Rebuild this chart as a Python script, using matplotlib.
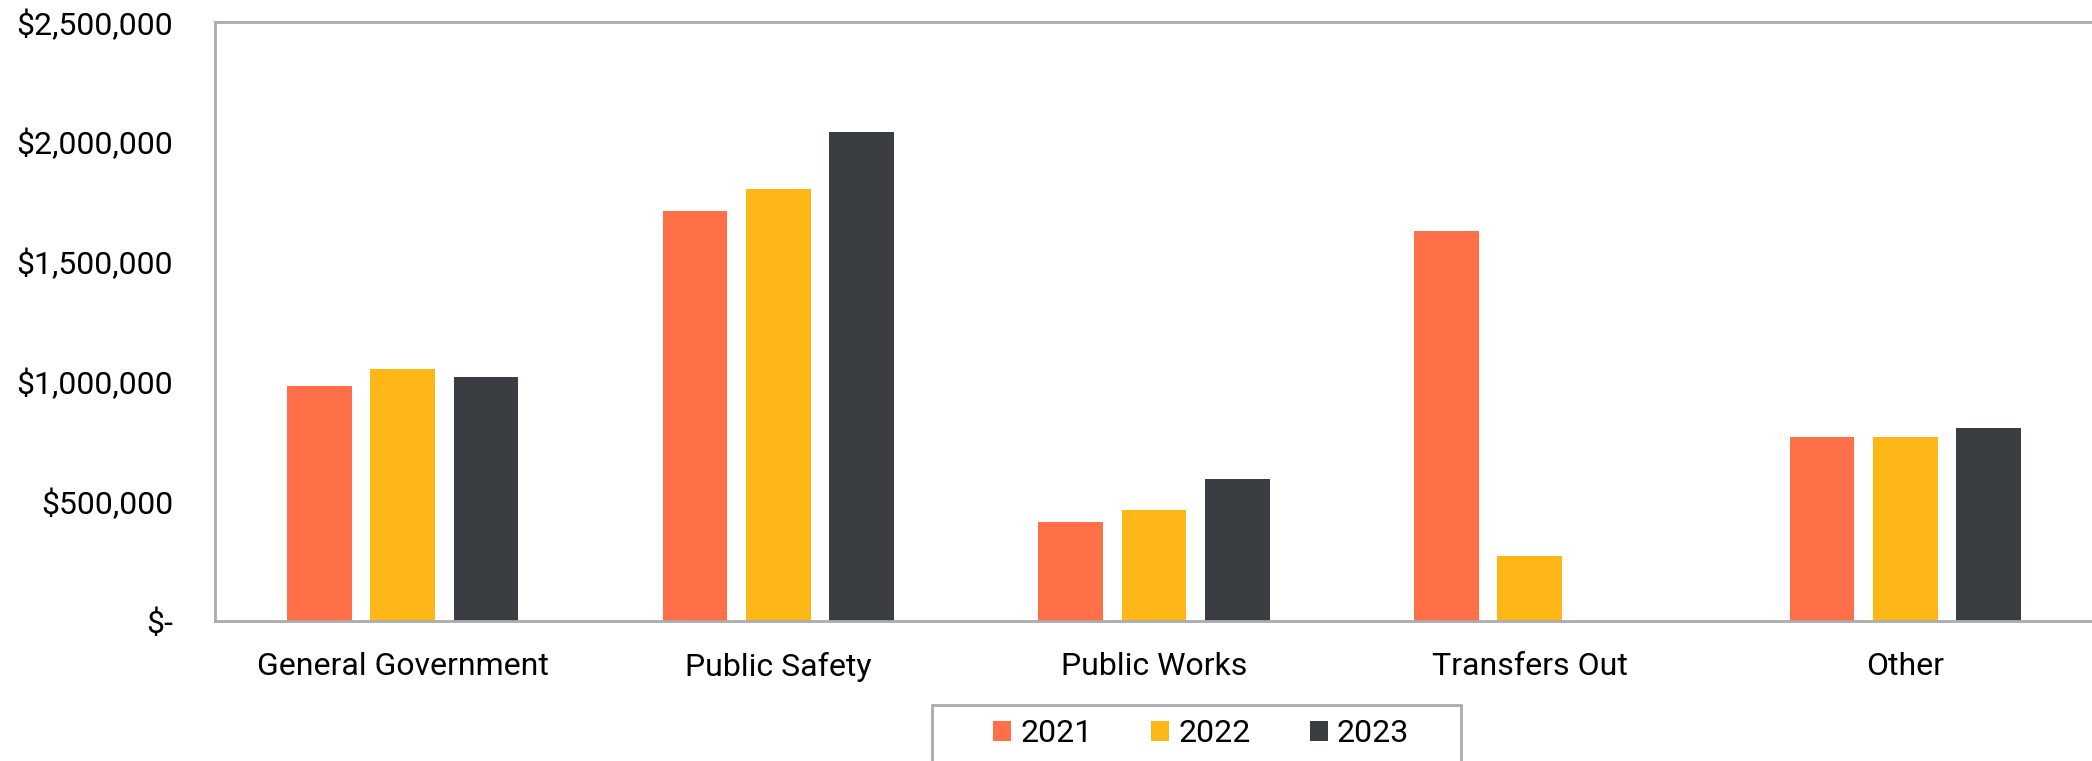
import matplotlib
matplotlib.use("Agg")
import matplotlib.pyplot as plt
from matplotlib.patches import Rectangle
from matplotlib.ticker import FuncFormatter
import numpy as np

plt.rcParams['font.family'] = ['Roboto', 'DejaVu Sans']

categories = ["General Government", "Public Safety", "Public Works", "Transfers Out", "Other"]
years = ["2021", "2022", "2023"]
vals_2021 = [980000, 1710000, 413000, 1628000, 766000]
vals_2022 = [1052000, 1802000, 465000, 272000, 766000]
vals_2023 = [1020000, 2042000, 592000, 0, 806000]
colors = ["#FF7049", "#FFB717", "#3A3E42"]

fig = plt.figure(figsize=(20.92, 7.61), dpi=100)
ax = fig.add_axes([215/2092, 140/761, 1878/2092, 599/761])

x = np.arange(len(categories))
step = 0.222
width = 0.172
for i, (vals, yr) in enumerate(zip([vals_2021, vals_2022, vals_2023], years)):
    ax.bar(x + (i - 1) * step, vals, width, color=colors[i], label=yr, zorder=2)

ax.set_xlim(-0.5, 4.5)
ax.set_ylim(0, 2500000)
ax.set_yticks(np.arange(0, 2500001, 500000))
ax.yaxis.set_major_formatter(FuncFormatter(lambda v, p: "$-" if v == 0 else "${:,.0f}".format(v)))
ax.set_xticks(x)
ax.set_xticklabels(categories)
ax.tick_params(axis='both', length=0, labelsize=23, colors='black')
ax.tick_params(axis='y', pad=30)
ax.tick_params(axis='x', pad=22)

for s in ['left', 'top', 'bottom']:
    ax.spines[s].set_color('#ABABAB')
    ax.spines[s].set_linewidth(2)
ax.spines['right'].set_visible(False)

handles, labels = ax.get_legend_handles_labels()
fig.legend(handles, labels, loc='center', bbox_to_anchor=(1201/2092, 1 - 733.5/761),
           ncol=3, frameon=False, fontsize=23, handlelength=0.57, handleheight=0.57,
           handletextpad=0.28, columnspacing=1.84, borderpad=0)
fig.patches.append(Rectangle((932/2092, -0.05), 529/2092, 0.05 + (761 - 705)/761,
                             transform=fig.transFigure, fill=False,
                             edgecolor='#ABABAB', linewidth=2))

fig.savefig("out.png", dpi=100)
